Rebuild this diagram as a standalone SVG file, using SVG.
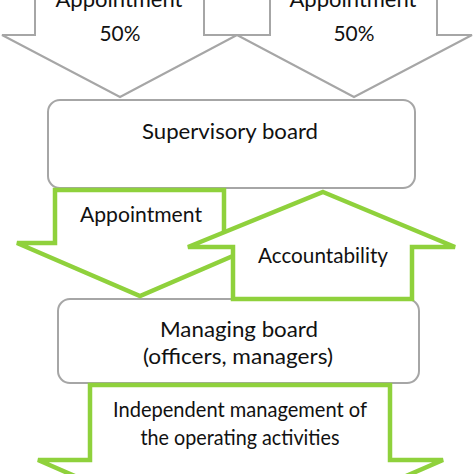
<svg xmlns="http://www.w3.org/2000/svg" width="474" height="474" viewBox="0 0 474 474">
<style>
.bg{fill:#ffffff}
.grey{fill:#ffffff;stroke:#a6a6a6;stroke-width:2;stroke-linejoin:miter}
.green{fill:#ffffff;stroke:#8fd13c;stroke-width:4.5;stroke-linejoin:miter}
.box{fill:#ffffff;stroke:#a6a6a6;stroke-width:2}
.t{font-family:Lato,"Open Sans","Liberation Sans",sans-serif;font-size:21px;fill:#111111;text-anchor:middle}
</style>
<rect class="bg" x="0" y="0" width="474" height="474"/>
<g id="connectors">
  <g id="appoint-left">
    <path class="grey" d="M35,-30 V35 H2 L120,97 L237,35 H204 V-30 Z"/>
    <text class="t" x="119" y="7" textLength="127" lengthAdjust="spacingAndGlyphs">Appointment</text>
    <text class="t" x="120" y="41" textLength="41" lengthAdjust="spacingAndGlyphs">50%</text>
  </g>
  <g id="appoint-right">
    <path class="grey" d="M270,-30 V35 H237 L354,97 L472,35 H437 V-30 Z"/>
    <text class="t" x="353" y="7" textLength="127" lengthAdjust="spacingAndGlyphs">Appointment</text>
    <text class="t" x="354" y="41" textLength="41" lengthAdjust="spacingAndGlyphs">50%</text>
  </g>
</g>
<g id="supervisory">
  <rect class="box" x="48" y="100" width="367" height="88" rx="12" ry="12"/>
  <text class="t" x="230" y="139" textLength="176" lengthAdjust="spacingAndGlyphs">Supervisory board</text>
</g>
<g id="managing">
  <rect class="box" x="58" y="299" width="361" height="84" rx="12" ry="12"/>
  <text class="t" x="239" y="337" textLength="158" lengthAdjust="spacingAndGlyphs">Managing board</text>
  <text class="t" x="238" y="364" textLength="190" lengthAdjust="spacingAndGlyphs">(officers, managers)</text>
</g>
<g id="green-connectors">
  <g id="appointment-down">
    <path class="green" d="M55,190 H224 V243 H263 L140,296 L17,243 H55 Z"/>
    <text class="t" x="141" y="222" textLength="122" lengthAdjust="spacingAndGlyphs">Appointment</text>
  </g>
  <g id="accountability-up">
    <path class="green" d="M323,192 L455,247 H412 V299 H233 V247 H188 Z"/>
    <text class="t" x="323" y="263" textLength="130" lengthAdjust="spacingAndGlyphs">Accountability</text>
  </g>
  <g id="operating-down">
    <path class="green" d="M90,385 H390 V460 H443 L240,548 L38,460 H90 Z"/>
    <text class="t" x="240" y="417" textLength="254" lengthAdjust="spacingAndGlyphs">Independent management of</text>
    <text class="t" x="240" y="445" textLength="199" lengthAdjust="spacingAndGlyphs">the operating activities</text>
  </g>
</g>
</svg>
